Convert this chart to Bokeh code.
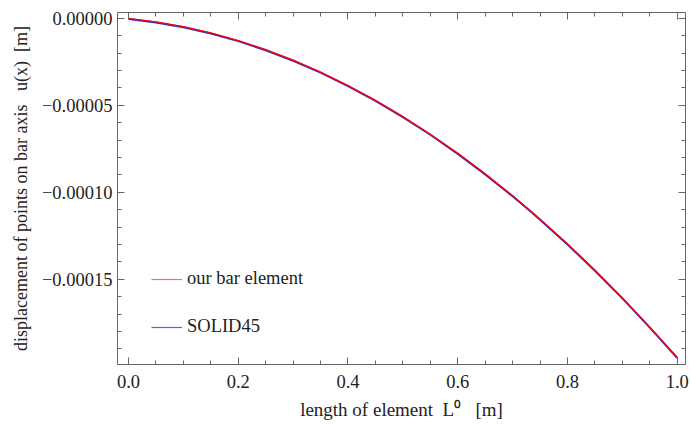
from bokeh.plotting import figure
from bokeh.models import (FixedTicker, CustomJSTickFormatter, LinearAxis, Range1d,
                          Legend, LegendItem)
from bokeh.embed import file_html
from bokeh.resources import INLINE

# data
x_bar = [0.0, 0.05, 0.1, 0.15, 0.2, 0.25, 0.3, 0.35, 0.4, 0.45, 0.5,
         0.55, 0.6, 0.65, 0.7, 0.75, 0.8, 0.85, 0.9, 0.95, 1.0]
u_bar = [0.0, -1.96e-6, -4.73e-6, -8.33e-6, -1.274e-5, -1.80e-5, -2.404e-5,
         -3.09e-5, -3.862e-5, -4.71e-5, -5.65e-5, -6.66e-5, -7.76e-5,
         -8.94e-5, -1.020e-4, -1.155e-4, -1.297e-4, -1.448e-4, -1.607e-4,
         -1.775e-4, -1.950e-4]
x_solid = [0.0, 0.05, 0.1, 0.15, 0.2, 0.25, 0.3, 0.35, 0.4, 0.45, 0.5,
           0.55, 0.6, 0.65, 0.7, 0.735, 0.75, 0.8, 0.85, 0.9, 0.95, 1.0]
u_solid = [-3e-7, -2.3e-6, -5.05e-6, -8.65e-6, -1.306e-5, -1.83e-5, -2.436e-5,
           -3.12e-5, -3.894e-5, -4.74e-5, -5.68e-5, -6.69e-5, -7.79e-5,
           -8.97e-5, -1.023e-4, -1.116e-4, -1.158e-4, -1.300e-4, -1.451e-4,
           -1.610e-4, -1.778e-4, -1.953e-4]

x_major = [0.0, 0.2, 0.4, 0.6, 0.8, 1.0]
x_minor = [i * 0.05 for i in range(0, 21)]
y_major = [0.0, -0.00005, -0.00010, -0.00015]
y_minor = [-i * 0.00001 for i in range(0, 20)]

FONT = "Liberation Serif"
AXC = "#666666"
SP = "\u00a0"

p = figure(width=691, height=424, output_backend="svg", toolbar_location=None,
           x_range=Range1d(-0.02, 1.015), y_range=Range1d(-0.000199, 0.0000034),
           x_axis_location=None, y_axis_location=None,
           min_border_left=117, min_border_right=6, min_border_top=12,
           min_border_bottom=60)
p.grid.visible = False
p.outline_line_color = None
p.background_fill_color = "white"
p.border_fill_color = "white"

xt = FixedTicker(ticks=x_major, minor_ticks=x_minor)
yt = FixedTicker(ticks=y_major, minor_ticks=y_minor)
xfmt = CustomJSTickFormatter(code="return tick.toFixed(1);")
yfmt = CustomJSTickFormatter(
    code="var s = Math.abs(tick).toFixed(5); return (tick < -1e-12 ? '\u2212' : '') + s;")
empty = CustomJSTickFormatter(code="return '';")


def style(ax, labels=True):
    ax.axis_line_color = AXC
    ax.major_tick_line_color = AXC
    ax.minor_tick_line_color = AXC
    ax.major_tick_in = 7
    ax.major_tick_out = 0
    ax.minor_tick_in = 4
    ax.minor_tick_out = 0
    ax.major_label_text_font = FONT
    ax.major_label_text_font_size = "18.5px"
    ax.major_label_text_color = "#222222"
    ax.axis_label_text_font = FONT
    ax.axis_label_text_font_size = "19px"
    ax.axis_label_text_font_style = "normal"
    ax.axis_label_text_color = "#222222"
    if not labels:
        ax.major_label_standoff = 0
        ax.major_label_text_font_size = "0px"


bx = LinearAxis(ticker=xt, formatter=xfmt,
                axis_label="length of element" + SP * 2 + "L\u2070" + SP * 3 + "[m]")
style(bx)
bx.major_label_standoff = 10
bx.axis_label_standoff = 8
p.add_layout(bx, "below")

ly = LinearAxis(ticker=yt, formatter=yfmt,
                axis_label="displacement of points on bar axis" + SP * 3 + "u(x)"
                + SP * 2 + "[m]")
style(ly)
ly.axis_label_text_font_size = "18px"
ly.major_label_standoff = 5
ly.axis_label_standoff = 8
p.add_layout(ly, "left")

tx = LinearAxis(ticker=xt, formatter=empty)
style(tx, False)
p.add_layout(tx, "above")
ry = LinearAxis(ticker=yt, formatter=empty)
style(ry, False)
p.add_layout(ry, "right")

p.line(x_solid, u_solid, line_color="#3030D0", line_width=2.0)
p.line(x_bar, u_bar, line_color="#FF0000", line_width=1.4)

# legend swatches (lighter, as in the reference); their data lie outside the view
r_leg1 = p.line([5, 6], [1, 1], line_color="#F07070", line_width=1.2)
r_leg2 = p.line([5, 6], [1, 1], line_color="#6060E0", line_width=1.2)
leg = Legend(items=[LegendItem(label="our bar element", renderers=[r_leg1]),
                    LegendItem(label="SOLID45", renderers=[r_leg2])],
             location=(34, 27), padding=0, margin=0, spacing=27,
             glyph_width=31, glyph_height=20, label_height=20,
             label_standoff=5, border_line_color=None,
             background_fill_alpha=0,
             label_text_font=FONT, label_text_font_size="18.5px",
             label_text_color="#222222")
p.add_layout(leg, "center")

open("out.html", "w").write(file_html(p, INLINE))
